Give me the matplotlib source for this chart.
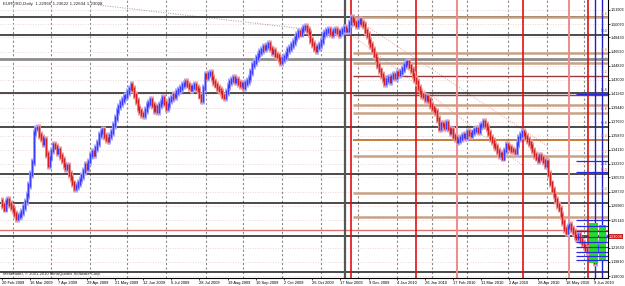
import matplotlib
matplotlib.use("Agg")
import matplotlib.pyplot as plt
from matplotlib.patches import Rectangle

plt.rcParams["font.family"] = ["Liberation Sans", "DejaVu Sans"]

# ---------------- data ----------------
symbol_header = "EURUSD,Daily  1.22966 1.23622 1.22604 1.23008"
copyright_text = "Metatrader, \u00a9 2001-2010 MetaQuotes Software Corp."

open0 = 1.276
closes = [
    1.270, 1.266, 1.274, 1.277, 1.272, 1.268, 1.264, 1.259, 1.254, 1.256,
    1.258, 1.262, 1.268, 1.275, 1.283, 1.296, 1.310, 1.325, 1.362, 1.368,
    1.369, 1.360, 1.356, 1.350, 1.353, 1.335, 1.322, 1.331, 1.340, 1.347,
    1.345, 1.338, 1.341, 1.333, 1.328, 1.322, 1.318, 1.320, 1.310, 1.305,
    1.298, 1.292, 1.295, 1.299, 1.303, 1.308, 1.314, 1.322, 1.318, 1.326,
    1.334, 1.338, 1.336, 1.343, 1.350, 1.360, 1.364, 1.366, 1.358, 1.355,
    1.353, 1.358, 1.364, 1.372, 1.381, 1.390, 1.396, 1.400, 1.404, 1.408,
    1.410, 1.414, 1.419, 1.423, 1.418, 1.411, 1.403, 1.394, 1.390, 1.387,
    1.385, 1.392, 1.398, 1.401, 1.404, 1.398, 1.392, 1.395, 1.390, 1.398,
    1.402, 1.407, 1.400, 1.394, 1.398, 1.404, 1.407, 1.411, 1.409, 1.414,
    1.417, 1.420, 1.423, 1.425, 1.427, 1.424, 1.421, 1.418, 1.421, 1.423,
    1.420, 1.417, 1.410, 1.404, 1.420, 1.436, 1.434, 1.438, 1.439, 1.432,
    1.427, 1.424, 1.420, 1.417, 1.414, 1.410, 1.408, 1.415, 1.422, 1.427,
    1.430, 1.432, 1.428, 1.430, 1.426, 1.423, 1.425, 1.421, 1.426, 1.429,
    1.432, 1.440, 1.449, 1.453, 1.458, 1.462, 1.465, 1.468, 1.472, 1.470,
    1.473, 1.476, 1.470, 1.465, 1.467, 1.462, 1.460, 1.456, 1.453, 1.457,
    1.459, 1.463, 1.468, 1.471, 1.474, 1.478, 1.483, 1.487, 1.491, 1.489,
    1.493, 1.496, 1.498, 1.494, 1.490, 1.481, 1.476, 1.471, 1.468, 1.472,
    1.474, 1.480, 1.487, 1.490, 1.492, 1.494, 1.490, 1.488, 1.492, 1.494,
    1.491, 1.488, 1.491, 1.494, 1.496, 1.493, 1.494, 1.502, 1.509, 1.506,
    1.503, 1.500, 1.504, 1.506, 1.502, 1.500, 1.492, 1.487, 1.480, 1.474,
    1.468, 1.462, 1.456, 1.449, 1.442, 1.436, 1.431, 1.426, 1.430, 1.432,
    1.429, 1.434, 1.436, 1.433, 1.439, 1.437, 1.440, 1.444, 1.449, 1.451,
    1.453, 1.448, 1.443, 1.436, 1.431, 1.427, 1.420, 1.414, 1.411, 1.409,
    1.406, 1.408, 1.404, 1.398, 1.394, 1.391, 1.389, 1.380, 1.369, 1.374,
    1.372, 1.370, 1.375, 1.368, 1.363, 1.366, 1.359, 1.356, 1.352, 1.353,
    1.356, 1.358, 1.360, 1.357, 1.364, 1.361, 1.360, 1.363, 1.366, 1.368,
    1.365, 1.371, 1.373, 1.376, 1.372, 1.369, 1.362, 1.356, 1.352, 1.347,
    1.344, 1.339, 1.334, 1.336, 1.331, 1.340, 1.347, 1.345, 1.343, 1.341,
    1.340, 1.338, 1.348, 1.356, 1.360, 1.364, 1.361, 1.357, 1.353, 1.350,
    1.346, 1.340, 1.334, 1.331, 1.328, 1.333, 1.330, 1.327, 1.322, 1.325,
    1.310, 1.298, 1.290, 1.283, 1.277, 1.270, 1.266, 1.258, 1.249, 1.240,
    1.236, 1.242, 1.245, 1.240, 1.236, 1.231, 1.228, 1.232, 1.226, 1.222,
    1.218, 1.215, 1.212, 1.210, 1.205, 1.203, 1.198, 1.213, 1.218, 1.222,
    1.226, 1.228, 1.230,
]

date_labels = ["20 Feb 2009", "16 Mar 2009", "7 Apr 2009", "29 Apr 2009", "21 May 2009",
               "12 Jun 2009", "6 Jul 2009", "28 Jul 2009", "19 Aug 2009", "10 Sep 2009",
               "2 Oct 2009", "26 Oct 2009", "17 Nov 2009", "9 Dec 2009", "4 Jan 2010",
               "26 Jan 2010", "17 Feb 2010", "11 Mar 2010", "2 Apr 2010", "28 Apr 2010",
               "18 May 2010", "9 Jun 2010"]
date_bars = [0, 16, 32, 48, 64, 80, 96, 112, 128, 144, 160, 176, 192, 208, 224,
             240, 256, 272, 288, 304, 320, 336]
month_start_bars = [6, 28, 50, 71, 93, 116, 137, 159, 181, 202, 224, 244, 264, 287, 309, 330]

price_labels = ["1.51903", "1.50070", "1.48430", "1.46590", "1.44820", "1.43000", "1.41260",
                "1.39440", "1.37690", "1.35870", "1.34110", "1.32290", "1.30570", "1.28730",
                "1.26960", "1.25140", "1.21630", "1.19810", "1.18000"]
price_ticks = [1.51903, 1.50070, 1.48430, 1.46590, 1.44820, 1.43000, 1.41260,
               1.39440, 1.37690, 1.35870, 1.34110, 1.32290, 1.30570, 1.28730,
               1.26960, 1.25140, 1.21630, 1.19810, 1.18000]
current_price = 1.23008

# full-width horizontal levels
black_levels = [1.5101, 1.4872, 1.4133, 1.3699, 1.3100, 1.2731, 1.2310, 1.1851]
gray_levels = [1.4566]
red_full_levels = [1.2387]
# levels drawn from the Nov 2009 top to the right edge
tan_levels = [1.5101, 1.4642, 1.4515, 1.3980, 1.3878, 1.3330, 1.2858, 1.2552]
darkred_levels = [1.4349, 1.4107]
orange_levels = [1.3534]
level_start_bar = 199

# fibonacci level captions near the right edge: (price, text, colour)
fib_captions = [(1.5120, "61.8", "#b08060"), (1.4895, "50.0", "#3030c0"),
                (1.4660, "61.8", "#b08060"), (1.4535, "50.0", "#b08060"),
                (1.4370, "38.2", "#b06060"), (1.4150, "61.8", "#3030c0"),
                (1.3900, "61.8", "#d03030"), (1.3720, "61.8", "#3030c0"),
                (1.3555, "50.0", "#b08060"), (1.3350, "38.2", "#b08060"),
                (1.3200, "23.6", "#3030c0"), (1.3120, "50.0", "#d03030"),
                (1.2880, "76.4", "#b08060")]

# vertical lines (bar index)
vline_gray = [194.7]
vline_red = [198, 235, 295.7, 332.4]
vline_pink = [258, 321.6]
vline_blue = [336.4, 340.5]

# trend lines: (bar0, price0, bar1, price1)
gray_trend = (54.5, 1.5254, 172, 1.4948)
pink_trends = [(202, 1.506, 310, 1.345), (197, 1.490, 296, 1.320)]

# ---------------- figure ----------------
W, H = 625, 286
fig = plt.figure(figsize=(W / 100, H / 100), dpi=100)
fig.patch.set_facecolor("white")
ax = fig.add_axes([0, 8 / H, 608 / W, 278 / H])
ax.set_facecolor("white")

x_left, x_right = -1.14, 343.9
y_top, y_bot = 1.53177, 1.53177 - 0.0012744 * 278
ax.set_xlim(x_left, x_right)
ax.set_ylim(y_bot, y_top)

# grid
for b in month_start_bars:
    ax.axvline(b, color="#8a8a8a", lw=0.8, ls=(0, (2, 2)), zorder=1)
for p in price_ticks:
    ax.axhline(p, color="#e7c6c6", lw=0.6, ls=(0, (1, 2)), zorder=1)

# horizontal levels
for p in black_levels:
    ax.axhline(p, color="#1a1a1a", lw=1.1, zorder=3)
for p in gray_levels:
    ax.axhline(p, color="#8c8c8c", lw=2.0, zorder=3)
for p in red_full_levels:
    ax.axhline(p, color="#e07070", lw=1.0, zorder=3)
for p in tan_levels:
    ax.hlines(p, level_start_bar, x_right, color="#c9a184", lw=1.8, zorder=3)
for p in darkred_levels:
    ax.hlines(p, level_start_bar, x_right, color="#9b3a3a", lw=1.0, zorder=3)
for p in orange_levels:
    ax.hlines(p, level_start_bar, x_right, color="#b86a1e", lw=1.2, zorder=3)

# vertical lines
for b in vline_gray:
    ax.axvline(b, color="#555555", lw=1.6, zorder=3)
for b in vline_red:
    ax.axvline(b, color="#e01010", lw=1.2, zorder=3)
for b in vline_pink:
    ax.axvline(b, color="#f08a8a", lw=1.4, zorder=3)
for b in vline_blue:
    ax.axvline(b, color="#2020d0", lw=1.0, zorder=3)

# trend lines
ax.plot([gray_trend[0], gray_trend[2]], [gray_trend[1], gray_trend[3]],
        color="#999999", lw=0.7, ls=(0, (1, 1.5)), zorder=2)
for t in pink_trends:
    ax.plot([t[0], t[2]], [t[1], t[3]], color="#f0a0a0", lw=0.7, ls=(0, (1, 1.5)), zorder=2)

# candles
wick = 0.0050
prev = open0
for i, c in enumerate(closes):
    o = prev
    col = "#3c3cff" if c >= o else "#d42020"
    halo = "#a8a8ff" if c >= o else "#f09a9a"
    lo, hi = min(o, c), max(o, c)
    ax.vlines(i, lo - wick, hi + wick, color=halo, lw=2.1, zorder=4)
    ax.vlines(i, lo - wick * 0.5, hi + wick * 0.5, color=col, lw=1.0, zorder=5)
    prev = c

# right-edge cluster of drawn objects
blue_short = [1.4120, 1.3270, 1.3120, 1.2510, 1.2440, 1.2380, 1.2300, 1.2230,
              1.2170, 1.2110, 1.2050, 1.2000]
for p in blue_short:
    ax.hlines(p, 326, x_right, color="#2a2ae0", lw=0.9, zorder=6)
ax.add_patch(Rectangle((333, 1.197), 5, 0.05, facecolor="#22dd22", edgecolor="none", zorder=5))
ax.add_patch(Rectangle((339, 1.200), 3.5, 0.045, facecolor="#22dd22", edgecolor="none", zorder=5))

for p, t, c in fib_captions:
    ax.text(x_right - 0.5, p, t, fontsize=2.4, color=c, ha="right", va="bottom", zorder=9)

# texts
ax.text(0.5, y_top - 0.0012744 * 4, symbol_header, fontsize=3.2, color="#222222",
        va="center", ha="left", zorder=10)
ax.text(0.3, y_top - 0.0012744 * 274.5, copyright_text, fontsize=3.0, color="#222222",
        va="center", ha="left", zorder=10)

# axes styling
for s in ["top", "left"]:
    ax.spines[s].set_visible(False)
ax.spines["right"].set_color("#000000")
ax.spines["bottom"].set_color("#000000")
ax.spines["right"].set_linewidth(0.8)
ax.spines["bottom"].set_linewidth(0.8)
ax.yaxis.tick_right()
ax.set_yticks(price_ticks)
ax.set_yticklabels(price_labels, fontsize=2.7)
ax.tick_params(axis="y", length=1.2, width=0.5, pad=0.8)
ax.set_xticks(date_bars)
ax.set_xticklabels(date_labels, fontsize=2.9, ha="left")
ax.tick_params(axis="x", length=1.5, width=0.5, pad=1.0)

ax.text(x_right + 0.6, current_price, "1.23008", fontsize=2.7, color="white", va="center",
        ha="left", clip_on=False, zorder=10,
        bbox=dict(boxstyle="square,pad=0.12", facecolor="#cc2020", edgecolor="none"))

fig.savefig("out.png", dpi=100)
